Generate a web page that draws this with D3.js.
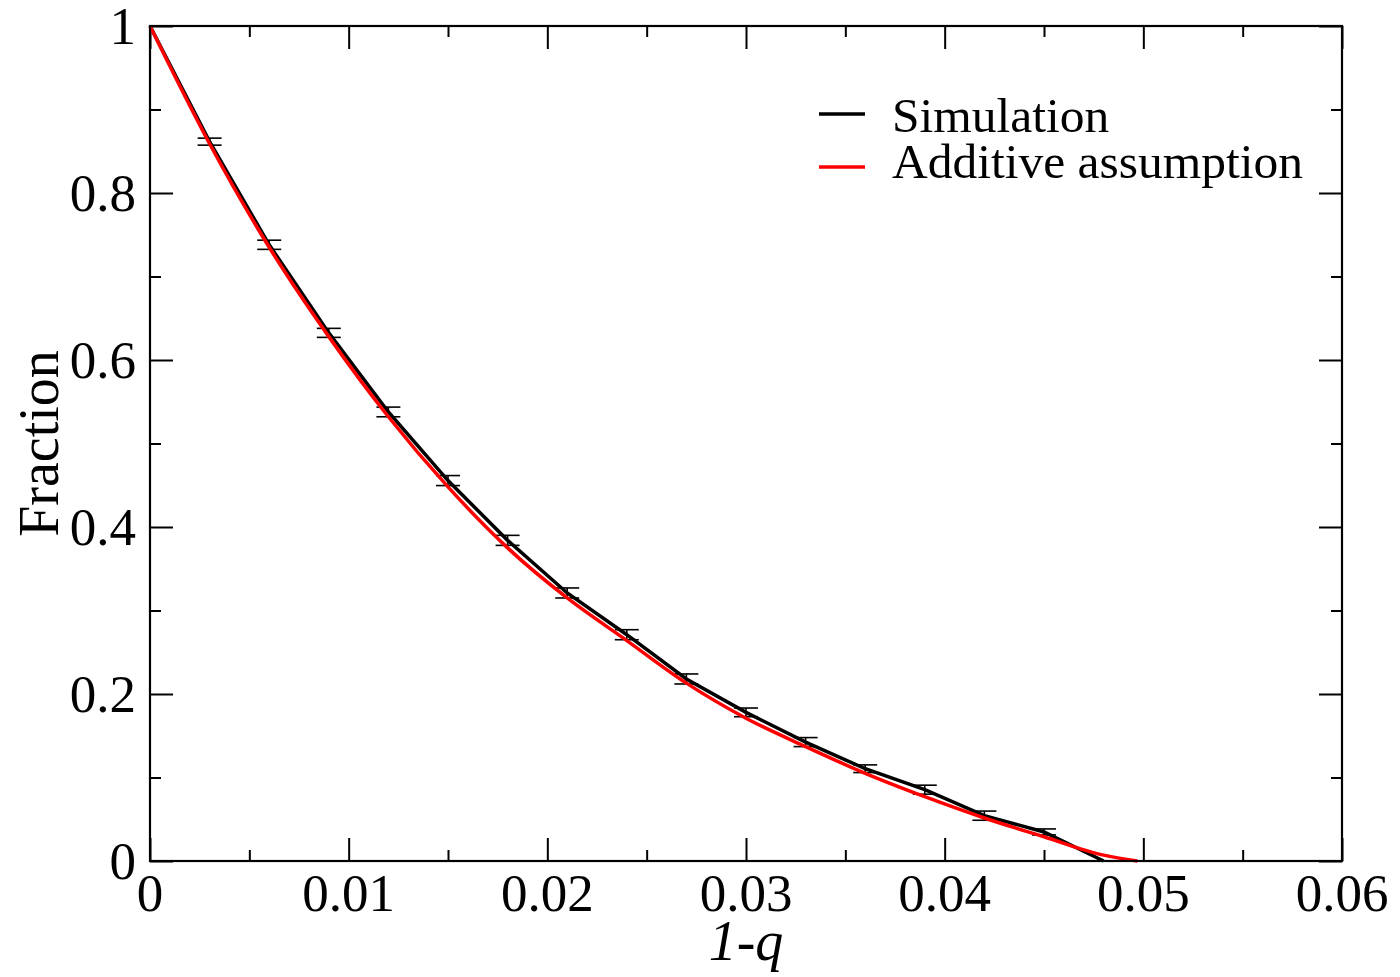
<!DOCTYPE html>
<html lang="en">
    <head>
        <meta charset="UTF-8">
        <title>Fraction vs 1-q</title>
        <script src="https://d3js.org/d3.v7.min.js"></script>
        <style>
            body{ margin: 0; background: white; }
            svg{ display: block; }
            text{ font-family: "Liberation Serif", "Times New Roman", serif; fill: black; }
        </style>
    </head>
    <body>
        <script>
            // simulation points (black, with error bars)
            const simX = [0, 0.003, 0.006, 0.009, 0.012, 0.015, 0.018, 0.021, 0.024, 0.027, 0.030, 0.033, 0.036, 0.039, 0.042, 0.045, 0.048]
            const simY = [1.0, 0.8615, 0.738, 0.6325, 0.5378, 0.4556, 0.384, 0.321, 0.271, 0.218, 0.178, 0.1424, 0.1105, 0.0854, 0.0543, 0.0348, 0]
            const simErr = [0, 0.0042, 0.0055, 0.0054, 0.0058, 0.006, 0.006, 0.006, 0.006, 0.006, 0.0052, 0.0054, 0.0046, 0.0054, 0.0055, 0.0036, 0]

            // additive assumption curve (red)
            const addX = [0, 0.003, 0.006, 0.009, 0.012, 0.015, 0.018, 0.021, 0.024, 0.027, 0.030, 0.033, 0.036, 0.039, 0.042, 0.045, 0.048, 0.0497]
            const addY = [1.0, 0.859, 0.735, 0.628, 0.532, 0.448, 0.375, 0.315, 0.264, 0.213, 0.171, 0.137, 0.105, 0.077, 0.0515, 0.029, 0.007, 0]

            const xTicks = [0, 0.01, 0.02, 0.03, 0.04, 0.05, 0.06]
            const xTickLabels = ["0", "0.01", "0.02", "0.03", "0.04", "0.05", "0.06"]
            const xMinor = [0.005, 0.015, 0.025, 0.035, 0.045, 0.055]
            const yTicks = [0, 0.2, 0.4, 0.6, 0.8, 1]
            const yTickLabels = ["0", "0.2", "0.4", "0.6", "0.8", "1"]
            const yMinor = [0.1, 0.3, 0.5, 0.7, 0.9]

            const legendNames = ["Simulation", "Additive assumption"]
            const legendColors = ["black", "#ff0000"]

            const margin = {top: 26, right: 58, bottom: 116, left: 150},
                W = 1400, H = 977,
                width = W - margin.left - margin.right,
                height = H - margin.top - margin.bottom

            const svg = d3.select("body").append("svg")
                .attr("width", W).attr("height", H)

            const g = svg.append("g").attr("transform", `translate(${margin.left},${margin.top})`)

            const xScale = d3.scaleLinear().domain([0, 0.06]).range([0, width])
            const yScale = d3.scaleLinear().domain([0, 1]).range([height, 0])

            const major = 23, minor = 11

            // axes with inward ticks on all four sides
            const axes = [
                {axis: d3.axisBottom(xScale), t: `translate(0,${height})`, ticks: xTicks, minorT: xMinor},
                {axis: d3.axisTop(xScale), t: `translate(0,0)`, ticks: xTicks, minorT: xMinor},
                {axis: d3.axisLeft(yScale), t: `translate(0,0)`, ticks: yTicks, minorT: yMinor},
                {axis: d3.axisRight(yScale), t: `translate(${width},0)`, ticks: yTicks, minorT: yMinor}
            ]
            axes.forEach(a=>{
                g.append("g").attr("transform", a.t)
                    .call(a.axis.tickValues(a.ticks).tickSize(-major).tickFormat("").tickSizeOuter(0))
                    .call(s=>s.select(".domain").remove())
                    .selectAll("line").attr("stroke", "black").attr("stroke-width", 2)
                g.append("g").attr("transform", a.t)
                    .call(a.axis.tickValues(a.minorT).tickSize(-minor).tickFormat("").tickSizeOuter(0))
                    .call(s=>s.select(".domain").remove())
                    .selectAll("line").attr("stroke", "black").attr("stroke-width", 2)
            })

            // tick labels
            g.selectAll(".xlab").data(xTicks).enter().append("text")
                .attr("x", d=>xScale(d)).attr("y", height + 50)
                .attr("text-anchor", "middle").attr("font-size", 53)
                .text((d,i)=>xTickLabels[i])
            g.selectAll(".ylab").data(yTicks).enter().append("text")
                .attr("x", -14).attr("y", d=>yScale(d) + 18)
                .attr("text-anchor", "end").attr("font-size", 53)
                .text((d,i)=>yTickLabels[i])

            // axis titles
            svg.append("text")
                .attr("transform", `translate(58,${margin.top + height/2}) rotate(-90)`)
                .attr("text-anchor", "middle").attr("font-size", 56)
                .text("Fraction")
            svg.append("text")
                .attr("x", margin.left + xScale(0.03)).attr("y", 960)
                .attr("text-anchor", "middle").attr("font-size", 56).attr("font-style", "italic")
                .text("1-q")

            // error bars
            const errData = simX.map((x,i)=>({x: x, y: simY[i], e: simErr[i]})).filter(d=>d.e > 0)
            const eb = g.append("g").attr("stroke", "black").attr("stroke-width", 1.6)
            eb.selectAll(".ev").data(errData).enter().append("line")
                .attr("x1", d=>xScale(d.x)).attr("x2", d=>xScale(d.x))
                .attr("y1", d=>yScale(d.y - d.e)).attr("y2", d=>yScale(d.y + d.e))
            ;[-1, 1].forEach(sgn=>{
                eb.selectAll(".cap" + sgn).data(errData).enter().append("line")
                    .attr("x1", d=>xScale(d.x) - 12).attr("x2", d=>xScale(d.x) + 12)
                    .attr("y1", d=>yScale(d.y + sgn*d.e)).attr("y2", d=>yScale(d.y + sgn*d.e))
            })

            // simulation line
            const simLine = d3.line().x(d=>xScale(d[0])).y(d=>yScale(d[1]))
            g.append("path")
                .datum(simX.map((x,i)=>[x, simY[i]]))
                .attr("d", simLine)
                .attr("fill", "none").attr("stroke", "black").attr("stroke-width", 3.5)

            // additive assumption
            const addLine = d3.line().x(d=>xScale(d[0])).y(d=>yScale(d[1])).curve(d3.curveMonotoneX)
            g.append("path")
                .datum(addX.map((x,i)=>[x, addY[i]]))
                .attr("d", addLine)
                .attr("fill", "none").attr("stroke", "#ff0000").attr("stroke-width", 3.5)

            // frame
            g.append("rect").attr("width", width).attr("height", height)
                .attr("fill", "none").attr("stroke", "black").attr("stroke-width", 2.2)

            // legend
            const legY = [114, 167], textY = [132, 178]
            legendNames.forEach((name,i)=>{
                svg.append("line")
                    .attr("x1", 819).attr("x2", 865).attr("y1", legY[i]).attr("y2", legY[i])
                    .attr("stroke", legendColors[i]).attr("stroke-width", 3.5)
                svg.append("text")
                    .attr("x", 892).attr("y", textY[i]).attr("font-size", 49.5)
                    .text(name)
            })
        </script>
    </body>
</html>
